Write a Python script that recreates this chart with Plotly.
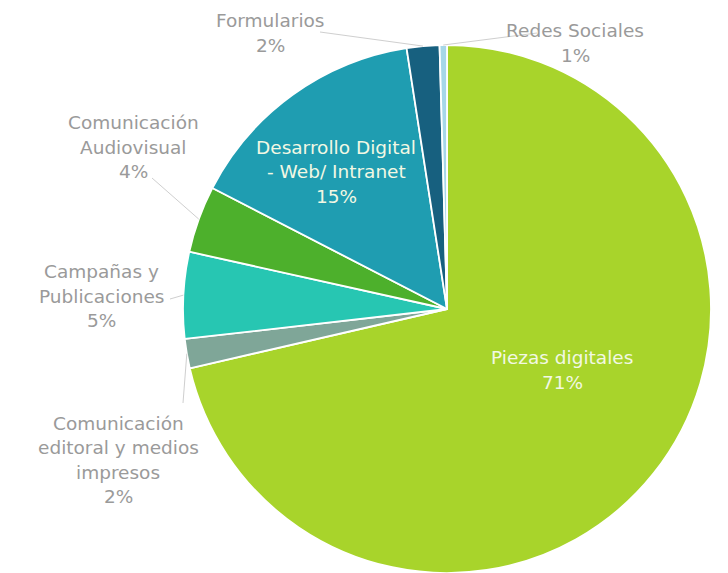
import math
import plotly.graph_objects as go

# ---- data ----
categories = [
    "Piezas digitales",
    "Comunicación editoral y medios impresos",
    "Campañas y Publicaciones",
    "Comunicación Audiovisual",
    "Desarrollo Digital - Web/ Intranet",
    "Formularios",
    "Redes Sociales",
]
shares = [71.5, 1.8, 5.3, 4.1, 15.0, 2.0, 0.45]          # slice sizes
pct_labels = ["71%", "2%", "5%", "4%", "15%", "2%", "1%"]  # percentages as printed
label_lines = [
    ["Piezas digitales"],
    ["Comunicación", "editoral y medios", "impresos"],
    ["Campañas y", "Publicaciones"],
    ["Comunicación", "Audiovisual"],
    ["Desarrollo Digital", "- Web/ Intranet"],
    ["Formularios"],
    ["Redes Sociales"],
]
colors = ["#A8D42B", "#7FA698", "#27C6B2", "#4DB02C", "#1F9DB1", "#17607F", "#A6D7E8"]

# ---- layout (screen pixels; page has an 8px body margin) ----
W, H = 728, 573
OFF = 8
R = 264
CX, CY = 447 - OFF, 309 - OFF
inside = [True, False, False, False, True, False, False]
text_center = [(562, 370), (118, 460), (101, 296), (133, 147), (336, 172), (270, 33), (575, 43)]
leader_end = [None, (183, 403), (170, 299), (152, 178), None, (320, 32), (537, 33)]
LINE_GAP = 24.5
FONT = "DejaVu Sans"
FS = 18.5


def px(x):
    return x / W


def py(y):
    return 1 - y / H


fig = go.Figure(go.Pie(
    labels=categories,
    values=shares,
    sort=False,
    direction="clockwise",
    rotation=0,
    marker=dict(colors=colors, line=dict(color="white", width=1.8)),
    textinfo="none",
    hoverinfo="label+percent",
    showlegend=False,
    domain=dict(x=[(CX - R) / W, (CX + R) / W], y=[(H - CY - R) / H, (H - CY + R) / H]),
))

total = sum(shares)
annotations = []
shapes = []
cum = 0.0
for i, v in enumerate(shares):
    mid = (cum + v / 2) / total * 2 * math.pi
    cum += v
    lines = label_lines[i] + [pct_labels[i]]
    tx, ty = text_center[i]
    tx, ty = tx - OFF, ty - OFF
    n = len(lines)
    col = "#F2F8E4" if inside[i] else "#9A9A9A"
    for k, t in enumerate(lines):
        yk = ty + (k - (n - 1) / 2) * LINE_GAP
        annotations.append(dict(
            x=px(tx), y=py(yk), xref="paper", yref="paper", text=t, showarrow=False,
            font=dict(family=FONT, size=FS, color=col), xanchor="center", yanchor="middle",
        ))
    if leader_end[i] is not None:
        sx = CX + R * math.sin(mid)
        sy = CY - R * math.cos(mid)
        ex, ey = leader_end[i]
        shapes.append(dict(type="line", xref="paper", yref="paper",
                           x0=px(sx), y0=py(sy), x1=px(ex - OFF), y1=py(ey - OFF),
                           line=dict(color="#CFCFCF", width=1)))

fig.update_layout(
    width=W, height=H,
    margin=dict(l=0, r=0, t=0, b=0),
    paper_bgcolor="white", plot_bgcolor="white",
    annotations=annotations, shapes=shapes,
)

fig.write_html("out.html")
